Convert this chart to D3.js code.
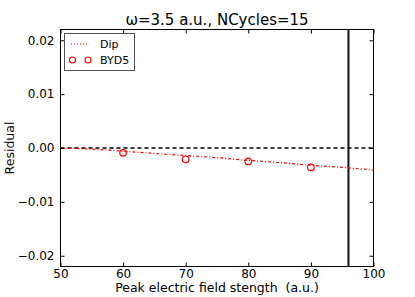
<!DOCTYPE html>
<html><head><meta charset="utf-8">
<script src="https://cdn.jsdelivr.net/npm/d3@7"></script>
<style>body{margin:0;background:#fff}text{font-family:"DejaVu Sans",sans-serif}</style>
</head><body><svg id="c" width="415" height="297"></svg>
<script>
const dipX = [50,55,60,65,70,75,80,85,90,95,100];
const dipY = [0,-0.0002,-0.0006,-0.0010,-0.0014,-0.0018,-0.0023,-0.0027,-0.0032,-0.0036,-0.0041];
const bydX = [60,70,80,90];
const bydY = [-0.0009,-0.0021,-0.0025,-0.0036];
const xTicks = [50,60,70,80,90,100];
const yTicks = [-0.02,-0.01,0,0.01,0.02];
const vLine = 96;
const title = "ω=3.5 a.u., NCycles=15";
const xLabel = "Peak electric field stength  (a.u.)";
const yLabel = "Residual";
const legendNames = ["Dip","BYD5"];

const svg = d3.select("#c");
const L=60.5, R=373.5, T=29.5, B=266.5;
const x = d3.scaleLinear().domain([50,100]).range([L,R]);
const y = d3.scaleLinear().domain([-0.022,0.022]).range([B,T]);

// zero line
svg.append("line").attr("x1",L).attr("x2",R).attr("y1",y(0)).attr("y2",y(0))
  .attr("stroke","#000").attr("stroke-width",1.5).attr("stroke-dasharray","4,3");
// vertical line
svg.append("line").attr("x1",x(vLine)).attr("x2",x(vLine)).attr("y1",T).attr("y2",B)
  .attr("stroke","#111").attr("stroke-width",2);
// dip line
svg.append("path").datum(dipX.map((d,i)=>[d,dipY[i]]))
  .attr("d",d3.line().x(d=>x(d[0])).y(d=>y(d[1])).curve(d3.curveMonotoneX))
  .attr("fill","none").attr("stroke","#f00").attr("stroke-width",1.2).attr("stroke-dasharray","3,2,1,2");
// byd points
svg.selectAll("circle.b").data(bydX).enter().append("circle")
  .attr("cx",d=>x(d)).attr("cy",(d,i)=>y(bydY[i])).attr("r",3.3)
  .attr("fill","none").attr("stroke","#f00").attr("stroke-width",1.2);

// frame
svg.append("rect").attr("x",L).attr("y",T).attr("width",R-L).attr("height",B-T)
  .attr("fill","none").attr("stroke","#000").attr("stroke-width",1);

// axes with inward ticks
const gx = svg.append("g").attr("transform",`translate(0,${B})`)
  .call(d3.axisBottom(x).tickValues(xTicks).tickSizeInner(-4).tickSizeOuter(0).tickPadding(3).tickFormat(d3.format("d")));
const gxt = svg.append("g").attr("transform",`translate(0,${T})`)
  .call(d3.axisTop(x).tickValues(xTicks).tickSizeInner(-4).tickSizeOuter(0).tickFormat(""));
const gy = svg.append("g").attr("transform",`translate(${L},0)`)
  .call(d3.axisLeft(y).tickValues(yTicks).tickSizeInner(-4).tickSizeOuter(0).tickPadding(6)
    .tickFormat(d=>d3.format(".2f")(d).replace("-","\u2212")));
const gyr = svg.append("g").attr("transform",`translate(${R},0)`)
  .call(d3.axisRight(y).tickValues(yTicks).tickSizeInner(-4).tickSizeOuter(0).tickFormat(""));
[gx,gxt,gy,gyr].forEach(g=>{g.select(".domain").remove();
  g.selectAll("text").attr("font-size",12).attr("fill","#000").attr("font-family","DejaVu Sans");
  g.selectAll("line").attr("stroke","#000");});

// title & labels
svg.append("text").attr("x",(L+R)/2).attr("y",25).attr("text-anchor","middle")
  .attr("font-size",15).text(title);
svg.append("text").attr("x",(L+R)/2).attr("y",292).attr("text-anchor","middle")
  .attr("font-size",12.5).style("white-space","pre").text(xLabel);
svg.append("text").attr("transform",`translate(14,${(T+B)/2}) rotate(-90)`).attr("text-anchor","middle")
  .attr("font-size",12.5).text(yLabel);

// legend
const lg = svg.append("g");
lg.append("rect").attr("x",64.5).attr("y",33.5).attr("width",70).attr("height",37)
  .attr("fill","#fff").attr("stroke","#555").attr("stroke-width",1);
lg.append("line").attr("x1",71).attr("x2",89).attr("y1",44).attr("y2",44)
  .attr("stroke","#f00").attr("stroke-width",1.2).attr("stroke-dasharray","1,2");
[72.5,88].forEach(cx=>lg.append("circle").attr("cx",cx).attr("cy",60).attr("r",3)
  .attr("fill","none").attr("stroke","#f00").attr("stroke-width",1.2));
legendNames.forEach((n,i)=>lg.append("text").attr("x",100).attr("y",47.5+i*16)
  .attr("font-size",11).text(n));
</script></body></html>
